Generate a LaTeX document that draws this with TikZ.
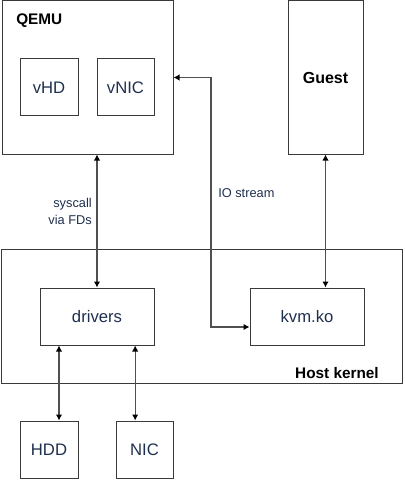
\documentclass[tikz,border=0pt]{standalone}
\usepackage{fontspec}
\setmainfont{Liberation Sans}
\usetikzlibrary{arrows.meta}
\definecolor{boxline}{HTML}{3A3A3A}
\definecolor{arrline}{HTML}{505050}
\definecolor{boxtext}{HTML}{1F2F4F}
\begin{document}
\begin{tikzpicture}[x=0.75pt,y=-0.75pt,
        box/.style={draw=boxline,line width=0.75pt,inner sep=0pt,text=boxtext,font=\fontsize{12.5}{14}\selectfont},
        arr/.style={draw=arrline,line width=0.8pt,{Latex[length=4.5pt,width=4.8pt,color=black]}-{Latex[length=4.5pt,width=4.8pt,color=black]}},
        lbl/.style={font=\fontsize{9.6}{12.8}\selectfont,inner sep=0pt,text=boxtext}]
        \useasboundingbox (0,0) rectangle (404,481);

        \node[box,minimum width=171*0.75pt,minimum height=153*0.75pt] (qemu) at (87.5,77.5){};
        \node[box,minimum width=75*0.75pt,minimum height=153*0.75pt,font=\fontsize{12}{14}\selectfont\bfseries,text=black] (guest) at (325.5,77.5){Guest};
        \node[box,minimum width=401*0.75pt,minimum height=134*0.75pt] (host) at (201.5,316){};
        \node[box,minimum width=58*0.75pt,minimum height=57*0.75pt] (vhd) at (49,87.5){vHD};
        \node[box,minimum width=57*0.75pt,minimum height=57*0.75pt] (vnic) at (125.5,87.5){vNIC};
        \node[box,minimum width=114*0.75pt,minimum height=57*0.75pt] (drivers) at (97,316.5){drivers};
        \node[box,minimum width=114*0.75pt,minimum height=57*0.75pt] (kvm) at (307,316.5){kvm.ko};
        \node[box,minimum width=58*0.75pt,minimum height=57*0.75pt] (hdd) at (49,449.5){HDD};
        \node[box,minimum width=57*0.75pt,minimum height=57*0.75pt] (nic) at (144.5,449.5){NIC};

        \node[anchor=west,inner sep=0pt,font=\fontsize{11.5}{14}\selectfont\bfseries] (qemulabel) at (16,20.5){QEMU};
        \node[anchor=east,inner sep=0pt,font=\fontsize{11.5}{14}\selectfont\bfseries] (hostlabel) at (379,373.5){Host kernel};

        \draw[arr] (drivers.north) -- (drivers.north |- qemu.south);
        \draw[arr] (guest.south) -- (guest.south |- kvm.north);
        \draw[arr] ([xshift=7.5pt]hdd.north) -- ([xshift=7.5pt]hdd.north |- drivers.south);
        \draw[arr] ([xshift=-7pt]nic.north) -- ([xshift=-7pt]nic.north |- drivers.south);
        \coordinate (iobend) at (211,327);
        \draw[arr] (qemu.east) -| (iobend) -- (iobend -| kvm.west);

        \node[lbl,anchor=east,align=right] (syscall) at (92,211){syscall\\via FDs};
        \node[lbl,anchor=west] (iostream) at (218,193){IO stream};
    \end{tikzpicture}
\end{document}
